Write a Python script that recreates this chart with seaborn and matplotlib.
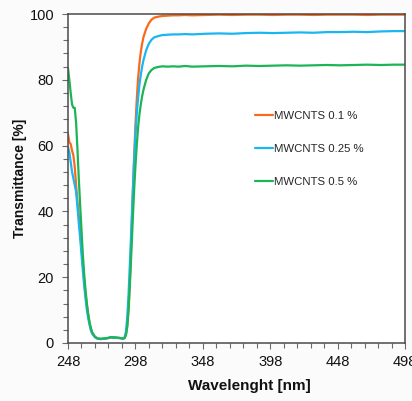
import numpy as np
import pandas as pd
import matplotlib
matplotlib.use("Agg")
import matplotlib.pyplot as plt
from matplotlib.ticker import MultipleLocator, FixedLocator
import seaborn as sns

wavelength = [248, 249, 250, 251, 252, 253, 254, 255, 256, 257, 258, 259, 260, 261, 262, 263, 264, 265, 266,
              268, 270, 272, 275, 278, 280, 283, 286, 288,
              289, 290, 291, 292, 293, 294, 295, 296, 297, 298, 299, 300, 301, 302, 303, 304,
              306, 308, 310, 312, 315, 318, 322, 326, 330, 335, 340,
              350, 360, 370, 380, 390, 400, 410, 420, 430, 440, 450, 460, 470, 480, 490, 498]

t_01 = [63.5, 61.0, 60.5, 58.5, 57.0, 53.5, 48.0, 43.0, 38.5, 34.0, 29.0, 24.0, 19.0, 15.0, 11.5, 8.5, 6.0, 4.2, 3.0,
        1.8, 1.3, 1.2, 1.3, 1.5, 1.7, 1.6, 1.5, 1.4,
        1.4, 1.6, 2.6, 5.5, 11.0, 20.0, 32.0, 44.5, 56.0, 66.0, 74.0, 80.5, 85.0, 88.5, 91.0, 93.0,
        95.5, 97.2, 98.3, 98.9, 99.2, 99.4, 99.5, 99.6, 99.6, 99.7, 99.6,
        99.7, 99.8, 99.7, 99.8, 99.8, 99.7, 99.8, 99.8, 99.7, 99.8, 99.8, 99.8, 99.7, 99.8, 99.8, 99.8]

t_025 = [59.5, 58.0, 55.0, 52.0, 50.0, 48.0, 46.0, 41.5, 36.5, 32.0, 27.0, 22.0, 17.5, 13.5, 10.0, 7.5, 5.5, 3.8, 2.8,
         1.8, 1.3, 1.2, 1.3, 1.5, 1.7, 1.6, 1.5, 1.4,
         1.4, 1.7, 3.5, 8.0, 15.5, 25.0, 35.0, 45.5, 55.0, 63.0, 69.5, 74.5, 78.5, 81.5, 84.0, 86.0,
         89.0, 91.0, 92.2, 92.9, 93.3, 93.6, 93.7, 93.8, 93.8, 93.9, 93.8,
         94.0, 94.1, 94.0, 94.2, 94.3, 94.2, 94.3, 94.4, 94.3, 94.5, 94.5, 94.6, 94.5, 94.7, 94.8, 94.8]

t_05 = [83.5, 80.0, 76.0, 72.5, 71.5, 71.5, 67.0, 59.0, 50.0, 42.0, 34.5, 27.0, 21.0, 16.0, 12.0, 8.8, 6.3, 4.5, 3.2,
        1.9, 1.4, 1.3, 1.4, 1.6, 1.8, 1.7, 1.6, 1.4,
        1.3, 1.5, 2.4, 5.0, 10.5, 18.5, 27.5, 37.0, 46.0, 53.5, 60.0, 65.5, 69.5, 72.5, 75.0, 77.0,
        80.0, 82.0, 83.0, 83.6, 83.9, 84.1, 84.0, 84.1, 84.0, 84.2, 84.0,
        84.1, 84.2, 84.1, 84.3, 84.2, 84.3, 84.4, 84.3, 84.4, 84.5, 84.4, 84.5, 84.6, 84.5, 84.6, 84.6]

labels = ["MWCNTS 0.1 %", "MWCNTS 0.25 %", "MWCNTS 0.5 %"]
colors = ["#FA6A1A", "#1AB6F2", "#1DB456"]

x_ticks = [248, 298, 348, 398, 448, 498]
y_ticks = [0, 20, 40, 60, 80, 100]

df = pd.concat([
    pd.DataFrame({"wl": wavelength, "T": t_01, "series": labels[0]}),
    pd.DataFrame({"wl": wavelength, "T": t_025, "series": labels[1]}),
    pd.DataFrame({"wl": wavelength, "T": t_05, "series": labels[2]}),
])

sns.set_style("ticks")
plt.rcParams["font.family"] = ["Liberation Sans", "DejaVu Sans"]

fig = plt.figure(figsize=(4.12, 4.01), dpi=100, facecolor="#fbfbfb")
ax = fig.add_axes([68 / 412, 1 - 343 / 401, (405 - 68) / 412, (343 - 14) / 401])
ax.set_facecolor("white")

sns.lineplot(data=df, x="wl", y="T", hue="series", palette=colors, hue_order=labels,
             linewidth=1.6, ax=ax, sort=False, estimator=None)

ax.set_xlim(248, 498)
ax.set_ylim(0, 100)
ax.xaxis.set_major_locator(FixedLocator(x_ticks))
ax.xaxis.set_minor_locator(MultipleLocator(10, offset=8))
ax.yaxis.set_major_locator(FixedLocator(y_ticks))
ax.yaxis.set_minor_locator(MultipleLocator(4))
ax.set_xticklabels([str(v) for v in x_ticks])
ax.set_yticklabels([str(v) for v in y_ticks])

for s in ax.spines.values():
    s.set_visible(True)
    s.set_color("#4a4a4a")
    s.set_linewidth(1.1)
ax.tick_params(which="both", direction="out", color="#6a6a6a", width=0.8)
ax.tick_params(which="major", length=4, labelsize=10.5, labelcolor="#111111")
ax.tick_params(axis="y", which="major", pad=6)
ax.tick_params(axis="x", which="major", pad=5)
ax.tick_params(which="minor", length=3.5)

ax.set_xlabel("Wavelenght [nm]", fontsize=11, fontweight="bold", color="#111111")
ax.set_ylabel("Transmittance [%]", fontsize=10, fontweight="bold", color="#111111")
ax.xaxis.set_label_coords(0.538, -0.108)
ax.yaxis.set_label_coords(-0.122, 0.5)

leg = ax.legend(loc="upper left", bbox_to_anchor=(0.54, 0.72), frameon=False,
                fontsize=8.2, handlelength=1.6, handletextpad=0.15, labelspacing=2.05,
                borderaxespad=0)
for line in leg.get_lines():
    line.set_linewidth(1.6)

fig.savefig("out.png", dpi=100, facecolor=fig.get_facecolor())
